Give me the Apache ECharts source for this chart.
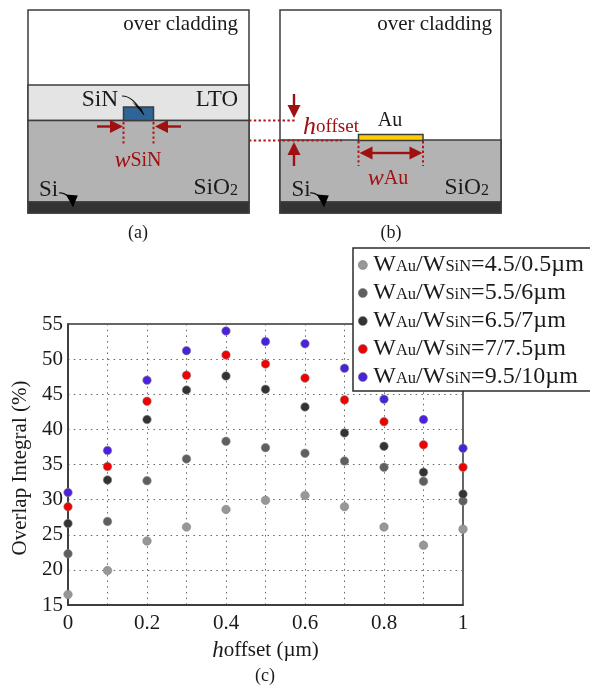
<!DOCTYPE html>
<html>
<head>
<meta charset="utf-8">
<style>html,body{margin:0;padding:0;background:#fff}#main{width:590px;height:691px}</style>
<script src="https://cdn.jsdelivr.net/npm/echarts@6/dist/echarts.min.js"></script>
</head>
<body>
<div id="main"></div>
<script>
var x_values = [0, 0.1, 0.2, 0.3, 0.4, 0.5, 0.6, 0.7, 0.8, 0.9, 1];
var x_tick_labels = ['0', '', '0.2', '', '0.4', '', '0.6', '', '0.8', '', '1'];
var y_tick_labels = [15, 20, 25, 30, 35, 40, 45, 50, 55];

var wau_45 = [16.5, 19.9, 24.1, 26.1, 28.6, 29.9, 30.6, 29.0, 26.1, 23.5, 25.8];
var wau_55 = [22.3, 26.9, 32.7, 35.8, 38.3, 37.4, 36.6, 35.5, 34.6, 32.6, 29.8];
var wau_65 = [26.6, 32.8, 41.4, 45.6, 47.6, 45.7, 43.2, 39.5, 37.6, 33.9, 30.8];
var wau_70 = [29.0, 34.7, 44.0, 47.7, 50.6, 49.3, 47.3, 44.2, 41.1, 37.8, 34.6];
var wau_95 = [31.0, 37.0, 47.0, 51.2, 54.0, 52.5, 52.2, 48.7, 44.3, 41.4, 37.3];

var series_names = ['4.5/0.5µm', '5.5/6µm', '6.5/7µm', '7/7.5µm', '9.5/10µm'];
var series_colors = ['#979797', '#5f5f5f', '#333333', '#f00000', '#4a22dc'];
var series_values = [wau_45, wau_55, wau_65, wau_70, wau_95];

var serif = '"Liberation Serif", serif';
var dark_red = '#a01010';
var ink = '#1a1a1a';
var frame = '#3c3c3c';

function box(x, y, w, h, fill, stroke){
    return {type: 'rect', shape: {x: x, y: y, width: w, height: h},
        style: {fill: fill, stroke: stroke || frame, lineWidth: 1.5}};
}
function label(x, y, text, size, color, align){
    return {type: 'text', x: x, y: y, z: 5, style: {
        text: text, fill: color || ink, fontFamily: serif, fontSize: size || 20,
        align: align || 'center', verticalAlign: 'middle',
        rich: {
            i: {fontFamily: serif, fontStyle: 'italic', fontSize: 24, fill: dark_red},
            h: {fontFamily: serif, fontStyle: 'italic', fontSize: 26, fill: dark_red},
            r: {fontFamily: serif, fontSize: 20, fill: dark_red},
            o: {fontFamily: serif, fontSize: 19, fill: dark_red},
            s: {fontFamily: serif, fontSize: 16, fill: ink, padding: [5, 0, 0, 0]}
        }
    }};
}
function dots(x1, y1, x2, y2){
    return {type: 'line', z: 4, shape: {x1: x1, y1: y1, x2: x2, y2: y2},
        style: {stroke: '#b01818', lineWidth: 2, lineDash: [2.4, 2.4]}};
}
function head(x, y, dx, dy, color, size){
    // triangle with its tip at x,y pointing along dx,dy
    var s = size || 13, w = s * 0.5;
    return {type: 'polygon', z: 6, shape: {points: [
        [x, y],
        [x - dx * s - dy * w, y - dy * s - dx * w],
        [x - dx * s + dy * w, y - dy * s + dx * w]
    ]}, style: {fill: color || dark_red}};
}
function arrow(x1, y1, x2, y2){
    var len = Math.sqrt((x2 - x1) * (x2 - x1) + (y2 - y1) * (y2 - y1));
    var dx = (x2 - x1) / len, dy = (y2 - y1) / len;
    return [
        {type: 'line', z: 5, shape: {x1: x1, y1: y1, x2: x2 - dx * 6, y2: y2 - dy * 6},
            style: {stroke: dark_red, lineWidth: 2.4}},
        head(x2, y2, dx, dy)
    ];
}
function curved(x1, y1, cx1, cy1, cx2, cy2, x2, y2, dx, dy){
    return [
        {type: 'bezierCurve', z: 6, shape: {x1: x1, y1: y1, cpx1: cx1, cpy1: cy1, cpx2: cx2, cpy2: cy2, x2: x2, y2: y2},
            style: {stroke: '#111', lineWidth: 1.2, fill: 'none'}},
        head(x2, y2, dx, dy, '#000', 12)
    ];
}

var graphics = [].concat(
    // panel (a)
    box(28, 10, 221, 203, '#fff'),
    box(28, 85, 221, 35.5, '#e4e4e4'),
    box(28, 120.5, 221, 81.5, '#b3b3b3'),
    box(28, 202, 221, 11, '#333333'),
    box(123.5, 107, 30, 13.5, '#2f6496'),
    label(238, 24, 'over cladding', 21, ink, 'right'),
    label(100, 100, 'SiN', 23.5),
    label(238, 100, 'LTO', 23, ink, 'right'),
    label(238, 188, 'SiO{s|2}', 23.5, ink, 'right'),
    label(48.5, 190, 'Si', 23),
    curved(122, 96, 130, 96, 136, 102, 144, 115, 0.6, 0.8),
    curved(59, 193, 64, 192, 71, 196, 73, 207, 0.1, 1),
    arrow(97, 126.5, 123, 126.5),
    arrow(181, 126.5, 155, 126.5),
    dots(123.5, 122, 123.5, 145),
    dots(153.5, 122, 153.5, 145),
    label(138, 161, '{i|w}{r|SiN}', 20),
    // panel (b)
    box(280, 10, 221, 203, '#fff'),
    box(280, 140, 221, 62, '#b3b3b3'),
    box(280, 202, 221, 11, '#333333'),
    box(358.5, 134.5, 64.5, 6, '#ffcc00'),
    label(492, 24, 'over cladding', 21, ink, 'right'),
    label(390, 121, 'Au', 20),
    label(489, 188, 'SiO{s|2}', 23.5, ink, 'right'),
    label(301, 190, 'Si', 23),
    curved(310, 193, 315, 192, 322, 196, 324, 207, 0.1, 1),
    arrow(294, 94, 294, 118),
    arrow(294, 166, 294, 142),
    arrow(391, 153, 359.5, 153),
    arrow(391, 153, 422.5, 153),
    dots(358.5, 141, 358.5, 166),
    dots(423, 141, 423, 166),
    label(388, 179, '{i|w}{r|Au}', 20),
    label(303, 127, '{h|h}{o|offset}', 20, ink, 'left'),
    dots(249, 120.5, 296, 120.5),
    dots(249, 140.5, 342, 140.5),
    // captions
    label(138, 233, '(a)', 18),
    label(391, 233, '(b)', 18),
    label(265, 676, '(c)', 18)
);

var myChart = echarts.init(document.getElementById('main'));

var option = {
    animation: false,
    backgroundColor: '#fff',
    graphic: graphics,
    grid: {
        left: 68, right: 127, top: 324, bottom: 86, show: true,
        borderColor: '#333', borderWidth: 1.5, backgroundColor: 'transparent'
    },
    legend: {
        left: 353, top: 248, orient: 'vertical', z: 10,
        backgroundColor: '#fff', borderColor: '#2c2c2c', borderWidth: 1.5,
        padding: [5, 12, 2, 5], itemGap: 4, itemWidth: 11, itemHeight: 9, icon: 'circle',
        itemStyle: {borderColor: '#777', borderWidth: 0.6},
        textStyle: {
            fontFamily: serif, fontSize: 23, color: ink, lineHeight: 24,
            rich: {
                w: {fontFamily: serif, fontSize: 24, color: ink},
                s: {fontFamily: serif, fontSize: 16.5, color: ink, padding: [4, 0, 0, 0]}
            }
        },
        formatter: function(name){
            return '{w|W}{s|Au}{w|/W}{s|SiN}{w|=' + name + '}';
        }
    },
    xAxis: {
        type: 'value', min: 0, max: 1, interval: 0.1,
        name: '{i|h}{t|offset (µm)}', nameLocation: 'middle', nameGap: 34,
        nameTextStyle: {
            rich: {
                i: {fontFamily: serif, fontStyle: 'italic', fontSize: 23, color: ink},
                t: {fontFamily: serif, fontSize: 21, color: ink}
            }
        },
        axisLine: {show: true, onZero: false, lineStyle: {color: '#333', width: 1.5}},
        axisTick: {show: false},
        axisLabel: {
            fontFamily: serif, fontSize: 21, color: ink, margin: 8, hideOverlap: false,
            formatter: function(v){ return x_tick_labels[Math.round(v * 10)]; }
        },
        splitLine: {show: true, lineStyle: {color: '#666', type: [1.5, 4.2], width: 1}}
    },
    yAxis: {
        type: 'value', min: y_tick_labels[0], max: y_tick_labels[y_tick_labels.length - 1], interval: 5,
        name: 'Overlap Integral (%)', nameLocation: 'middle', nameGap: 37,
        nameTextStyle: {fontFamily: serif, fontSize: 21, color: ink, padding: [0, 7, 0, 0]},
        axisLine: {show: true, onZero: false, lineStyle: {color: '#333', width: 1.5}},
        axisTick: {show: false},
        axisLabel: {fontFamily: serif, fontSize: 21, color: ink, margin: 5},
        splitLine: {show: true, lineStyle: {color: '#666', type: [1.5, 4.2], width: 1}}
    },
    series: series_names.map(function(name, i){
        return {
            name: name, type: 'scatter', symbolSize: 8.5,
            itemStyle: {color: series_colors[i], opacity: 1, borderColor: '#888', borderWidth: 0.6},
            data: x_values.map(function(x, j){ return [x, series_values[i][j]]; })
        };
    })
};

myChart.setOption(option);
</script>
</body>
</html>
